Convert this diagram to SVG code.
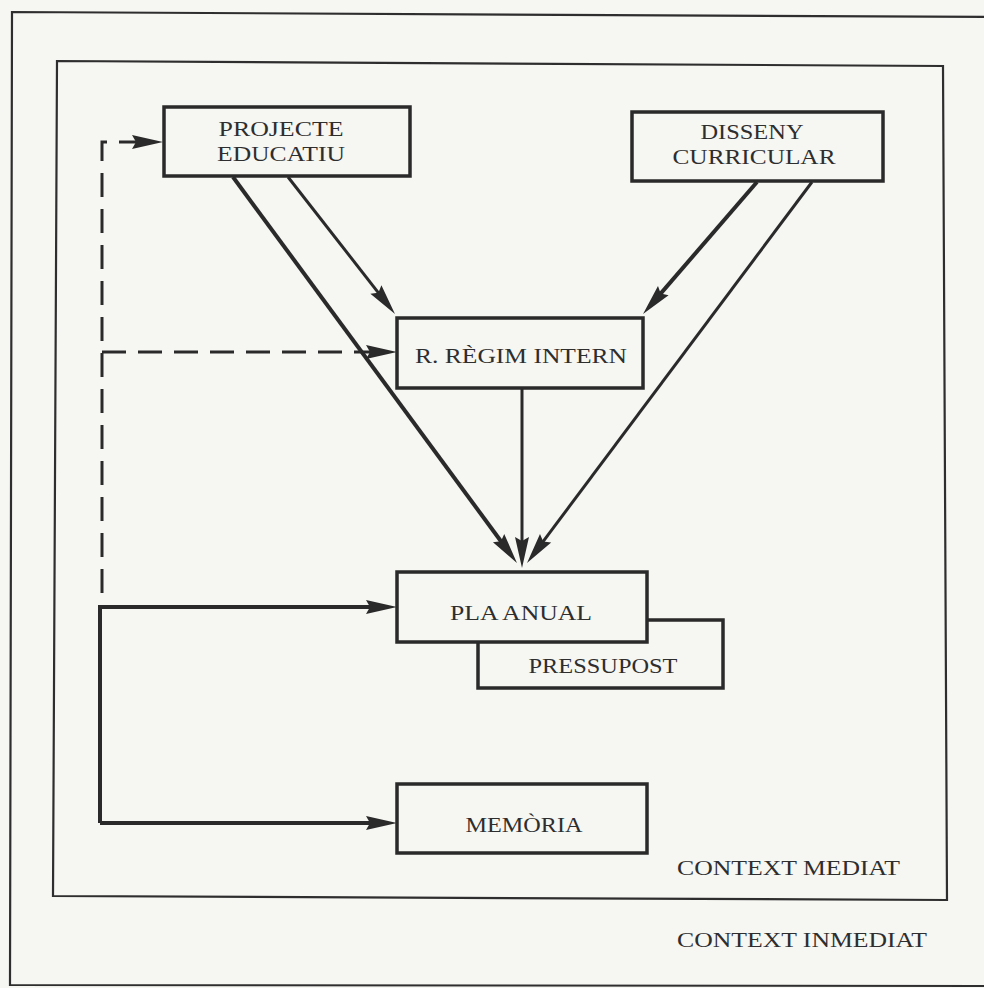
<svg xmlns="http://www.w3.org/2000/svg" width="984" height="988" viewBox="0 0 984 988">
<style>
.bg{fill:#f6f6f3}
.frame{fill:none;stroke:#2e2e2e;stroke-width:2.2}
.box rect{fill:#f6f6f3;stroke:#2a2a2a;stroke-width:3.5}
text{font-family:"Liberation Serif","Times New Roman",serif;font-size:22px;fill:#2e2e2e;text-anchor:middle}
.lbl{text-anchor:start}
.c{fill:none;stroke:#2a2a2a;stroke-width:3}
.thick{stroke-width:4}
.dash{stroke-dasharray:24 12}
</style>
<defs>
<marker id="ah" markerUnits="userSpaceOnUse" markerWidth="34" markerHeight="16" refX="13" refY="7" orient="auto" overflow="visible">
<path d="M0,0 L31,7 L0,14 L4,7 Z" fill="#2a2a2a"/>
</marker>
</defs>
<rect class="bg" x="0" y="0" width="984" height="988"/>
<g id="context-inmediat">
<path class="frame" d="M990,17 L12,12 L10,985 L990,986"/>
<text class="lbl" x="677" y="947" textLength="250" lengthAdjust="spacingAndGlyphs">CONTEXT INMEDIAT</text>
</g>
<g id="context-mediat">
<path class="frame" d="M57,61 L943,66 L947,900 L53,896 Z"/>
<text class="lbl" x="677" y="875" textLength="223" lengthAdjust="spacingAndGlyphs">CONTEXT MEDIAT</text>
</g>
<g id="connectors">
<path class="c thick" d="M233,177 L506.3,548.5" marker-end="url(#ah)"/>
<path class="c" d="M288,177 L383.9,299.8" marker-end="url(#ah)"/>
<path class="c thick" d="M757,182 L654.8,300.4" marker-end="url(#ah)"/>
<path class="c" d="M812,182 L537.8,548.6" marker-end="url(#ah)"/>
<path class="c" d="M522,388 L522,550" marker-end="url(#ah)"/>
<path class="c dash" d="M102,593 L102,142 L145,142" marker-end="url(#ah)"/>
<path class="c dash" d="M102,352 L379,352" marker-end="url(#ah)"/>
<path class="c thick" d="M100,823 L100,607 L379,607" marker-end="url(#ah)"/>
<path class="c thick" d="M100,823 L379,823" marker-end="url(#ah)"/>
</g>
<g id="projecte-educatiu" class="box">
<rect x="164" y="107" width="246" height="69"/>
<text x="281" y="136" textLength="125" lengthAdjust="spacingAndGlyphs">PROJECTE</text>
<text x="281" y="161" textLength="128" lengthAdjust="spacingAndGlyphs">EDUCATIU</text>
</g>
<g id="disseny-curricular" class="box">
<rect x="632" y="112" width="251" height="69"/>
<text x="752" y="139" textLength="103" lengthAdjust="spacingAndGlyphs">DISSENY</text>
<text x="754" y="164" textLength="163" lengthAdjust="spacingAndGlyphs">CURRICULAR</text>
</g>
<g id="regim-intern" class="box">
<rect x="397" y="318" width="246" height="70"/>
<text x="521" y="363" textLength="212" lengthAdjust="spacingAndGlyphs">R. RÈGIM INTERN</text>
</g>
<g id="pressupost" class="box">
<rect x="478" y="620" width="245" height="68"/>
<text x="603" y="673" textLength="149" lengthAdjust="spacingAndGlyphs">PRESSUPOST</text>
</g>
<g id="pla-anual" class="box">
<rect x="397" y="572" width="250" height="70"/>
<text x="521" y="620" textLength="142" lengthAdjust="spacingAndGlyphs">PLA ANUAL</text>
</g>
<g id="memoria" class="box">
<rect x="397" y="784" width="250" height="69"/>
<text x="524" y="832" textLength="117" lengthAdjust="spacingAndGlyphs">MEMÒRIA</text>
</g>
</svg>
